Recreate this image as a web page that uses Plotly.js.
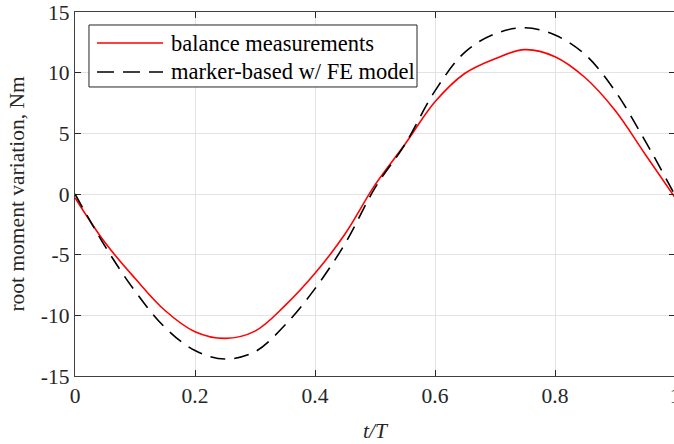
<!DOCTYPE html>
<html>
<head>
<meta charset="utf-8">
<script src="https://cdn.plot.ly/plotly-3.0.1.min.js"></script>
<style>
html, body { margin: 0; padding: 0; overflow: hidden; background: #fff; }
#chart { width: 675px; height: 444px; }
</style>
</head>
<body>
<div id="chart"></div>
<script>
// t/T sample positions
const tValues = [0, 0.05, 0.1, 0.15, 0.2, 0.25, 0.3, 0.35, 0.4, 0.45, 0.5,
                 0.55, 0.6, 0.65, 0.7, 0.75, 0.8, 0.85, 0.9, 0.95, 1.0];
// balance measurements (Nm)
const balanceValues = [-0.3, -4.0, -6.95, -9.6, -11.35, -11.9, -11.3, -9.2, -6.54, -3.3, 0.75,
                       4.1, 7.6, 9.95, 11.15, 11.9, 11.32, 9.6, 6.9, 3.3, -0.3];
// marker-based w/ FE model (Nm)
const markerValues = [0, -4.3, -8.0, -11.0, -12.9, -13.6, -13.0, -10.8, -7.8, -4.1, 0.5,
                      4.1, 8.5, 11.7, 13.2, 13.7, 13.1, 11.5, 8.5, 4.4, -0.1];
const seriesNames = ["balance measurements", "marker-based w/ FE model"];
const xTicks = [0, 0.2, 0.4, 0.6, 0.8, 1];
const xTickText = ["0", "0.2", "0.4", "0.6", "0.8", "1"];
const yTicks = [-15, -10, -5, 0, 5, 10, 15];
const yTickText = ["-15", "-10", "-5", "0", "5", "10", "15"];

const FONT = "'Liberation Serif', 'Times New Roman', serif";
const dashPattern = "15px,9px";

const traces = [
  { x: tValues, y: balanceValues, name: seriesNames[0], type: "scatter", mode: "lines",
    line: { color: "#ff0000", width: 1.6, shape: "spline", smoothing: 1.0 } },
  { x: tValues, y: markerValues, name: seriesNames[1], type: "scatter", mode: "lines",
    line: { color: "#000000", width: 1.6, dash: dashPattern, shape: "spline", smoothing: 1.0 } }
];

const axisCommon = {
  showline: true, linecolor: "#404040", linewidth: 1.3, mirror: "ticks",
  ticks: "inside", ticklen: 6, tickwidth: 1, tickcolor: "#262626",
  showgrid: true, gridcolor: "#e3e3e3", gridwidth: 1, zeroline: false,
  ticklabeloverflow: "allow",
  tickfont: { family: FONT, size: 21.5, color: "#262626" }, tickmode: "array"
};

// custom legend box (paper coordinates of the plot area)
const legX0 = 0.0233, legX1 = 0.57, legY0 = 0.794, legY1 = 0.9643;
const row1 = 0.9148, row2 = 0.8352;
const sampleX0 = 0.0367, sampleX1 = 0.1467, textX = 0.1567;

const layout = {
  width: 675, height: 444,
  margin: { l: 75, r: 0, t: 12, b: 68, pad: 0 },
  paper_bgcolor: "#ffffff", plot_bgcolor: "#ffffff",
  showlegend: false,
  font: { family: FONT, size: 21.5, color: "#262626" },
  xaxis: Object.assign({}, axisCommon, {
    range: [0, 1], tickvals: xTicks, ticktext: xTickText,
    title: { text: "<i>t/T</i>", font: { family: FONT, size: 21.5, color: "#262626" }, standoff: 16 }
  }),
  yaxis: Object.assign({}, axisCommon, {
    range: [-15, 15], tickvals: yTicks, ticktext: yTickText,
    title: { text: "root moment variation, Nm", font: { family: FONT, size: 21.5, color: "#262626" }, standoff: 10 }
  }),
  shapes: [
    { type: "rect", xref: "paper", yref: "paper", x0: legX0, x1: legX1, y0: legY0, y1: legY1,
      fillcolor: "#ffffff", line: { color: "#262626", width: 1 } },
    { type: "line", xref: "paper", yref: "paper", x0: sampleX0, x1: sampleX1, y0: row1, y1: row1,
      line: { color: "#ff0000", width: 1.6 } },
    { type: "line", xref: "paper", yref: "paper", x0: sampleX0, x1: sampleX1, y0: row2, y1: row2,
      line: { color: "#000000", width: 1.6, dash: "17px,9px" } }
  ],
  annotations: [
    { xref: "paper", yref: "paper", x: textX, y: row1, xanchor: "left", yanchor: "middle",
      text: seriesNames[0], showarrow: false, font: { family: FONT, size: 22.5, color: "#000000" } },
    { xref: "paper", yref: "paper", x: textX, y: row2, xanchor: "left", yanchor: "middle",
      text: seriesNames[1], showarrow: false, font: { family: FONT, size: 22.5, color: "#000000" } }
  ]
};

Plotly.newPlot("chart", traces, layout, { displayModeBar: false, staticPlot: true });
</script>
</body>
</html>
